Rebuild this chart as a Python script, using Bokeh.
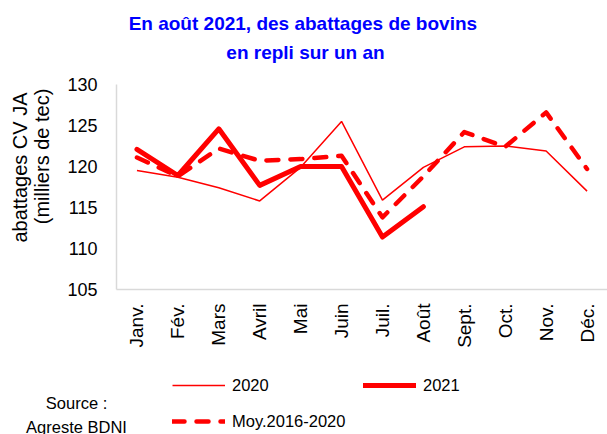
import math
from bokeh.plotting import figure
from bokeh.layouts import column
from bokeh.models import (ColumnDataSource, Range1d, FixedTicker, Label, Legend, LegendItem)
from bokeh.embed import file_html
from bokeh.resources import INLINE

months = ["Janv.", "Fév.", "Mars", "Avril", "Mai", "Juin", "Juil.", "Août",
          "Sept.", "Oct.", "Nov.", "Déc."]
v2020 = [119.5, 118.7, 117.4, 115.8, 119.9, 125.5, 115.9, 119.9, 122.4, 122.5, 121.9, 117.0]
v2021 = [122.1, 118.9, 124.6, 117.7, 120.0, 120.0, 111.4, 115.1]
moy = [121.1, 118.8, 122.2, 120.7, 120.9, 121.3, 113.8, 118.8, 124.2, 122.4, 126.6, 119.7]
y_ticks = [105, 110, 115, 120, 125, 130]

FONT = "Liberation Sans"
RED = "#FF0000"
W = 607


def blank(h):
    f = figure(width=W, height=h, x_range=Range1d(0, W), y_range=Range1d(h, 0),
               output_backend="svg", toolbar_location=None,
               min_border=0, min_border_left=0, min_border_right=0,
               min_border_top=0, min_border_bottom=0)
    f.frame_align = False
    f.axis.visible = False
    f.grid.visible = False
    f.outline_line_color = None
    return f


# ---- header (title)
head = blank(76)
for txt, yy in [("En  août 2021, des abattages de bovins", 23), ("en repli sur un an", 52)]:
    head.add_layout(Label(x=305, y=yy, text=txt, text_font=FONT, text_font_style="bold",
                          text_font_size="19px", text_color="#0000FF",
                          text_align="center", text_baseline="middle"))

# ---- main chart
p = figure(width=W, height=292, x_range=months, y_range=Range1d(105, 130),
           output_backend="svg", toolbar_location=None,
           min_border_left=116, min_border_right=0, min_border_top=8,
           min_border_bottom=79)
p.frame_align = False
p.outline_line_color = None
p.xgrid.visible = False
p.ygrid.visible = False

src20 = ColumnDataSource(dict(x=months, y=v2020))
src21 = ColumnDataSource(dict(x=months[:len(v2021)], y=v2021))
srcm = ColumnDataSource(dict(x=months, y=moy))

STY20 = dict(line_color=RED, line_width=1.5)
STY21 = dict(line_color=RED, line_width=5, line_join="round", line_cap="round")
STYM = dict(line_color=RED, line_width=4.5, line_dash="12 12", line_cap="round", line_join="round")

p.line("x", "y", source=src20, **STY20)
p.line("x", "y", source=src21, **STY21)
p.line("x", "y", source=srcm, **STYM)

for ax in (p.xaxis[0], p.yaxis[0]):
    ax.axis_line_color = "#d9d9d9"
    ax.axis_line_width = 1.5
    ax.major_tick_line_color = None
    ax.minor_tick_line_color = None
    ax.major_tick_out = 0
    ax.major_tick_in = 0
    ax.major_label_text_font = FONT
    ax.major_label_text_color = "#000000"

p.yaxis.ticker = FixedTicker(ticks=y_ticks)
p.yaxis.major_label_text_font_size = "18px"
p.yaxis.major_label_standoff = 19
nb = "\u00a0"
p.yaxis.axis_label = nb * 7 + "abattages CV JA\n" + nb * 11 + "(milliers de tec)"
p.yaxis.axis_label_text_font = FONT
p.yaxis.axis_label_text_font_size = "20px"
p.yaxis.axis_label_text_font_style = "normal"
p.yaxis.axis_label_text_color = "#000000"
p.yaxis.axis_label_text_line_height = 1.0
p.yaxis.axis_label_standoff = 11
p.xaxis.major_label_text_font_size = "19px"
p.xaxis.major_label_orientation = math.pi / 2
p.xaxis.major_label_standoff = 14

# ---- footer (legend + source)
foot = blank(66)
# legend proxies: the series drawn on a hidden range, so only their legend glyphs show
foot.extra_y_ranges = {"hidden": Range1d(0, 1)}
idx = list(range(len(months)))
d20 = foot.line(idx, v2020, y_range_name="hidden", **STY20)
d21 = foot.line(idx[:len(v2021)], v2021, y_range_name="hidden", **STY21)
dm = foot.line(idx, moy, y_range_name="hidden", **STYM)
for txt, yy in [("Source :", 34), ("Agreste BDNI", 58)]:
    foot.add_layout(Label(x=76, y=yy, text=txt, text_font=FONT, text_font_size="16.5px",
                          text_color="#000000", text_align="center", text_baseline="middle"))


def make_legend(items, loc):
    lg = Legend(items=items, location=loc, orientation="horizontal")
    lg.glyph_width = 53
    lg.glyph_height = 20
    lg.label_height = 20
    lg.label_width = 115
    lg.label_standoff = 7
    lg.spacing = 16
    lg.padding = 0
    lg.margin = 0
    lg.border_line_color = None
    lg.background_fill_alpha = 0
    lg.label_text_font = FONT
    lg.label_text_font_size = "16.5px"
    lg.label_text_color = "#000000"
    return lg


foot.add_layout(make_legend([LegendItem(label="2020", renderers=[d20]),
                             LegendItem(label="2021", renderers=[d21])], (172, 39)), "center")
foot.add_layout(make_legend([LegendItem(label="Moy.2016-2020", renderers=[dm])], (172, 3)), "center")

layout = column(head, p, foot, spacing=0)
open("out.html", "w").write(file_html(layout, INLINE))
